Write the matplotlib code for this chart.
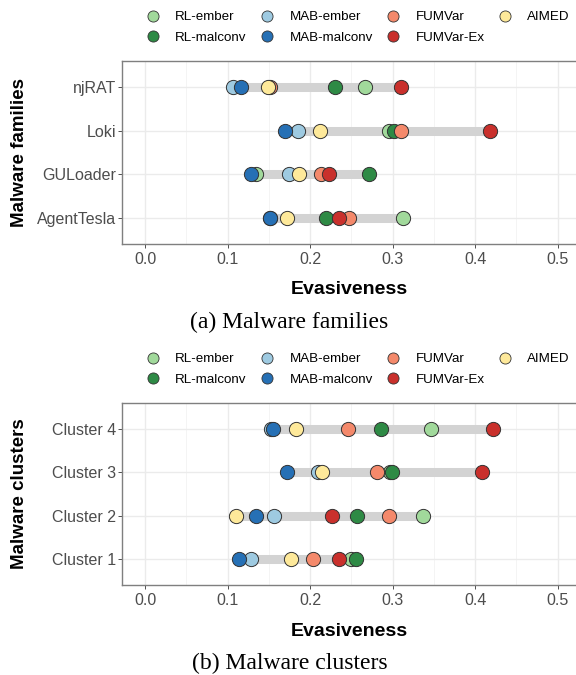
import matplotlib.pyplot as plt
import numpy as np
from matplotlib.lines import Line2D

methods = ['RL-ember', 'RL-malconv', 'MAB-ember', 'MAB-malconv', 'FUMVar', 'FUMVar-Ex', 'AIMED']
colors = ['#A1D99B', '#2E8A45', '#9ECAE1', '#2670B5', '#F4896B', '#C9302C', '#FEE99A']

families = ['njRAT', 'Loki', 'GULoader', 'AgentTesla']
fam_rl_ember = [0.266, 0.296, 0.135, 0.313]
fam_rl_malconv = [0.230, 0.302, 0.271, 0.219]
fam_mab_ember = [0.107, 0.185, 0.174, 0.151]
fam_mab_malconv = [0.116, 0.170, 0.128, 0.152]
fam_fumvar = [0.152, 0.310, 0.213, 0.247]
fam_fumvar_ex = [0.310, 0.418, 0.223, 0.235]
fam_aimed = [0.149, 0.212, 0.187, 0.172]

clusters = ['Cluster 4', 'Cluster 3', 'Cluster 2', 'Cluster 1']
cl_rl_ember = [0.346, 0.297, 0.337, 0.249]
cl_rl_malconv = [0.286, 0.299, 0.257, 0.256]
cl_mab_ember = [0.153, 0.209, 0.156, 0.128]
cl_mab_malconv = [0.155, 0.172, 0.134, 0.114]
cl_fumvar = [0.246, 0.281, 0.296, 0.204]
cl_fumvar_ex = [0.422, 0.408, 0.226, 0.235]
cl_aimed = [0.183, 0.215, 0.110, 0.177]

W, H = 576, 675
SANS = 'Liberation Sans'
SERIF = 'Liberation Serif'


def px(x, y):
    return x / W, 1 - y / H


def draw_panel(fig, top, bottom, cats, series, ylabel, caption):
    ax = fig.add_axes([122 / W, 1 - bottom / H, (W - 122) / W, (bottom - top) / H])
    n = len(cats)
    ypos = np.arange(n)[::-1] + 1
    data = np.array(series)
    lo = data.min(axis=0)
    hi = data.max(axis=0)
    for i in range(n):
        ax.plot([lo[i], hi[i]], [ypos[i], ypos[i]], color='#D3D3D3', lw=6.5,
                solid_capstyle='butt', zorder=2)
    for k, vals in enumerate(series):
        ax.scatter(vals, ypos, s=105, color=colors[k], edgecolor='#333333',
                   linewidth=0.7, zorder=3 + k)
    ax.set_xlim(-0.0279, 0.5222)
    ax.set_ylim(0.4, n + 0.6)
    ax.set_xticks(np.arange(0, 0.51, 0.1))
    ax.set_xticks(np.arange(0.05, 0.51, 0.1), minor=True)
    ax.set_xticklabels(['%.1f' % v for v in np.arange(0, 0.51, 0.1)])
    ax.set_yticks(ypos)
    ax.set_yticklabels(cats)
    ax.grid(which='major', color='#EBEBEB', lw=1.0, zorder=0)
    ax.grid(which='minor', axis='x', color='#F2F2F2', lw=0.6, zorder=0)
    ax.set_axisbelow(True)
    ax.tick_params(axis='both', which='major', labelsize=11.5, labelcolor='#4D4D4D',
                   color='#333333', length=3, width=0.6)
    ax.tick_params(axis='x', pad=3)
    ax.tick_params(axis='y', pad=1.5)
    ax.tick_params(which='minor', length=0)
    for lab in ax.get_xticklabels() + ax.get_yticklabels():
        lab.set_family(SANS)
    for s in ['left', 'bottom', 'top']:
        ax.spines[s].set_color('#7F7F7F')
        ax.spines[s].set_linewidth(1.0)
    ax.spines['right'].set_visible(False)

    handles = [Line2D([], [], ls='', marker='o', markersize=8, markerfacecolor=c,
                      markeredgecolor='#333333', markeredgewidth=0.6) for c in colors]
    fig.legend(handles, methods, ncol=4, loc='upper left',
               bbox_to_anchor=px(146, top - 61 + 11), frameon=False,
               prop={'family': SANS, 'size': 9.6}, handlelength=1.0,
               handletextpad=1.2, columnspacing=1.0, labelspacing=0.62,
               borderpad=0, borderaxespad=0)

    fig.text(*px(349.7, bottom + 46), 'Evasiveness', ha='center', va='center',
             fontsize=14, fontweight='bold', family=SANS)
    fig.text(*px(20, (top + bottom) / 2), ylabel, ha='center', va='center',
             rotation=90, fontsize=13.5, fontweight='bold', family=SANS)
    fig.text(*px(289.5, bottom + 78), caption, ha='center', va='center',
             fontsize=17, family=SERIF)
    return ax


fig = plt.figure(figsize=(W / 100, H / 100), dpi=100)

fam_series = [fam_rl_ember, fam_rl_malconv, fam_mab_ember, fam_mab_malconv,
              fam_fumvar, fam_fumvar_ex, fam_aimed]
cl_series = [cl_rl_ember, cl_rl_malconv, cl_mab_ember, cl_mab_malconv,
             cl_fumvar, cl_fumvar_ex, cl_aimed]

draw_panel(fig, 61, 244, families, fam_series, 'Malware families', '(a) Malware families')
draw_panel(fig, 403, 585, clusters, cl_series, 'Malware clusters', '(b) Malware clusters')

plt.savefig('out.png', dpi=100)
plt.close()
